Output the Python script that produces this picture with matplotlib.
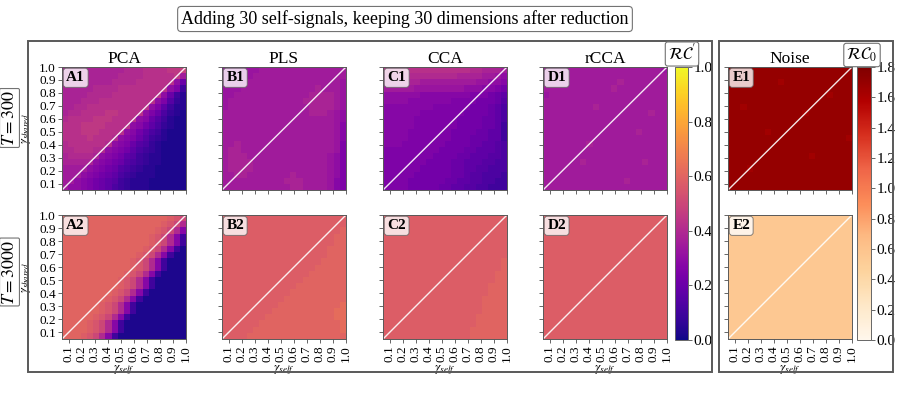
import numpy as np
import matplotlib
matplotlib.use("Agg")
import matplotlib.pyplot as plt
from matplotlib.patches import Rectangle

plt.rcParams["font.family"] = ["Liberation Serif", "DejaVu Serif"]
plt.rcParams["mathtext.fontset"] = "stix"

title = "Adding 30 self-signals, keeping 30 dimensions after reduction"
methods = ["PCA", "PLS", "CCA", "rCCA"]
letters = ["A", "B", "C", "D"]
row_labels = ["$T = 300$", "$T = 3000$"]

gamma = [0.05, 0.10, 0.15, 0.20, 0.25, 0.30, 0.35, 0.40, 0.45, 0.50,
         0.55, 0.60, 0.65, 0.70, 0.75, 0.80, 0.85, 0.90, 0.95, 1.00]
gamma_ticks = [0.1, 0.2, 0.3, 0.4, 0.5, 0.6, 0.7, 0.8, 0.9, 1.0]
rc_ticks = [0.0, 0.2, 0.4, 0.6, 0.8, 1.0]
noise_ticks = [0.0, 0.2, 0.4, 0.6, 0.8, 1.0, 1.2, 1.4, 1.6, 1.8]

# heatmap values, one char per cell (base 36),
# top row = gamma_shared 1.0, left col = gamma_self 0.05
# RC' panels: value = code * 0.025 ; noise panels: value = code * 0.05
A1 = ["fffff fffff ggghh hhiij",
      "fffff ffffg ggghh hhhie",
      "fffff fffgg gghhh hhhc8",
      "fffff ggggh hhhhh hhca4",
      "ffffg ggghh hhhhh hc842",
      "fffgg ghhhh hhhhh ca632",
      "ffggh hhhhh hhhhc a7422",
      "fgghh hhiih hhhca 85321",
      "ghhhh iiihh hhcb8 64211",
      "hhhii iihhh hcb97 53211",
      "hhhii ihhhh cb975 42111",
      "hhhhi hhhgc ba864 32111",
      "ghhhh hhgcb a8653 21111",
      "gghhh ggcba 97543 21111",
      "fgggg fcba9 76432 21111",
      "fffff cba98 65432 21111",
      "eeeec ba986 54322 11111",
      "eeecb a9875 43222 11111",
      "eecba 98764 32221 11111",
      "eccba 98754 32221 11111"]

B1 = ["ddddd deeee eeeee eeeee",
      "ddddd eeeee eeeee eeeee",
      "dddde eeeee eeeee eeeed",
      "dddee eeeee eeeee feeed",
      "ddeee eeeee eeeef fffed",
      "deeee eeeee eeeff fffed",
      "deeee eeeee eeeef fffed",
      "eeeee eeeee eeeef ffedc",
      "eeeee eeeee eeeee eeedc",
      "eeeee eeeee eeeee eeedb",
      "eeeee eeeee eeeee eeedb",
      "eeeee eeeee eeeee eeedb",
      "eefee eeeee eeeee eeeda",
      "effee eeeee eeeee eeeda",
      "efffe eeeee eeeee eedca",
      "effff eeeee eeeee eedca",
      "effff eeeee eeeee eedca",
      "eeffe eeeee efeee eedca",
      "eeeee eeeee fffee eedba",
      "eeeee eeeee effee eedba"]

C1 = ["hhhhh hhhhh hhhhg gfffe",
      "ggggg ggggg ggfff feedc",
      "fffff feeee eeeee ddccb",
      "eeeee ddddd dddcc cbba9",
      "ccccc cbbbb bbbba aa987",
      "ccccb bbbbb baaaa 99986",
      "bbbbb bbbaa aaaa9 99875",
      "bbbbb baaaa aaa99 99875",
      "bbbbb aaaaa aa999 98875",
      "bbbbb aaaaa aa999 98874",
      "bbbba aaaaa a9999 88774",
      "bbbba aaaaa a9998 88774",
      "bbbaa aaaaa 99998 87765",
      "aaaaa aaaa9 99988 77765",
      "aaaaa aaa99 99887 77665",
      "aaaaa aa999 98877 76655",
      "aaaaa a9999 98877 66555",
      "aaaaa 99999 98876 65554",
      "aaaa9 99999 88776 65544",
      "aaaa9 99998 87766 55444"]

D1 = ["eeeee eeeee eeeee eeeed",
      "eeeee eeeee eeeee eeeee",
      "eeeee eeeee eefee eeeee",
      "eeeee eeeee efeee eeeee",
      "deeee eeeee eeeee eeeee",
      "eeeee eeeee eeeee eeeee",
      "eeeee eeefe eeeee eeeee",
      "eeeee eeeee eeeee eefee",
      "eeeee eeeee eeeee eeeee",
      "eeeee eeeee eeeee eeeee",
      "eeeee eeeee eeeee feeee",
      "eeeee eeeee eeeee eeeee",
      "eeeee eefee eeeee eeeee",
      "eeeee eeeee eeeee eeeee",
      "eeeee eeeee eeeee eeeee",
      "eeeee efeee eeeee efeee",
      "eeeee eeeee eeeee eeeee",
      "eeeee eeeee eeeee eeeee",
      "eeeee eeeee eeefe eeeee",
      "eeeee eeeee eeeee eeeee"]

A2 = ["ooooo ooooo ooooo oonmk",
      "ooooo ooooo ooooo onmkg",
      "ooooo ooooo ooooo nmkgb",
      "ooooo ooooo oooon mkgb4",
      "ooooo ooooo oooon mkgb4",
      "ooooo ooooo ooonm kgb41",
      "ooooo ooooo oonmk gb411",
      "ooooo ooooo onmkg b4111",
      "ooooo ooooo onmkg b4111",
      "ooooo ooooo nmkgb 41111",
      "ooooo oooon mkgb4 11111",
      "ooooo oooon mkgb4 11111",
      "ooooo ooonm kgb41 11111",
      "ooooo oonmk gb411 11111",
      "ooooo onmkg b4111 11111",
      "ooooo onmkg b4111 11111",
      "ooooo nmkgb 41111 11111",
      "oooon mkgb4 11111 11111",
      "oooon mkgb4 11111 11111",
      "ooonm kgb41 11111 11111"]

B2 = ["nnnnn nnnnn nnnnn nnnnn",
      "nnnnn nnnnn nnnnn nnnnn",
      "nnnnn nnnnn nnnnn nnnno",
      "nnnnn nnnnn nnnnn nnnoo",
      "nnnnn nnnnn nnnnn nnnoo",
      "nnnnn nnnnn nnnnn nnooo",
      "nnnnn nnnnn nnnnn nnooo",
      "nnnnn nnnnn nnnnn noooo",
      "nnnnn nnnnn nnnnn ooooo",
      "nnnnn nnnnn nnnno ooooo",
      "nnnnn nnnnn nnnoo ooooo",
      "nnnnn nnnnn nnooo ooooo",
      "nnnnn nnnnn noooo ooooo",
      "nnnnn nnnnn ooooo ooooo",
      "nnnnn nnnno ooooo oooop",
      "nnnnn nnnoo ooooo ooopp",
      "nnnnn nnooo ooooo ooopp",
      "nnnnn noooo ooooo oooop",
      "nnnnn ooooo ooooo oooop",
      "nnnno ooooo ooooo ooooo"]

C2 = ["nnnnn nnnnn nnnnn nnnnn",
      "nnnnn nnnnn nnnnn nnnnn",
      "nnnnn nnnnn nnnnn nnnnn",
      "nnnnn nnnnn nnnnn nnnnn",
      "nnnnn nnnnn nnnnn nnnnn",
      "nnnnn nnnnn nnnnn nnnnn",
      "nnnnn nnnnn nnnnn nnnnn",
      "nnnnn nnnnn nnnnn nnnno",
      "nnnnn nnnnn nnnnn nnnno",
      "nnnnn nnnnn nnnnn nnnoo",
      "nnnnn nnnnn nnnnn nnnoo",
      "nnnnn nnnnn nnnnn nnooo",
      "nnnnn nnnnn nnnnn nnooo",
      "nnnnn nnnnn nnnnn noooo",
      "nnnnn nnnnn nnnnn noooo",
      "nnnnn nnnnn nnnnn noooo",
      "nnnnn nnnnn nnnnn ooooo",
      "nnnnn nnnnn nnnnn ooooo",
      "nnnnn nnnnn nnnno ooooo",
      "nnnnn nnnnn nnnno ooooo"]

D2 = ["nnnnn nnnnn nnnnn nnnnn",
      "nnnnn nnnnn nnnnn nnnnn",
      "nnnnn nnnnn nnnnn nnnnn",
      "nnnnn nnnnn nnnnn nnnnn",
      "nnnnn nnnnn nnnnn nnnnn",
      "nnnnn nnnnn nnnnn nnnnn",
      "nnnnn nnnnn nnnnn nnnnn",
      "nnnnn nnnnn nnnnn nnnnn",
      "nnnnn nnnnn nnnnn nnnnn",
      "nnnnn nnnnn nnnnn nnnnn",
      "nnnnn nnnnn nnnnn nnnnn",
      "nnnnn nnnnn nnnnn nnnnn",
      "nnnnn nnnnn nnnnn nnnnn",
      "nnnnn nnnnn nnnnn nnnnn",
      "nnnnn nnnnn nnnnn nnnnn",
      "nnnnn nnnnn nnnnn nnnnn",
      "nnnnn nnnnn nnnnn nnnnn",
      "nnnnn nnnnn nnnnn nnnnn",
      "nnnnn nnnnn nnnnn nnnnn",
      "nnnnn nnnnn nnnnn nnnnn"]

E1 = ["yyyyy yyyyy yyyyy yyyyy",
      "yyyyy yyyyy yyyyy yyyyy",
      "yyyyy yyyxy yyyyy yyyyy",
      "yyyyy yyyyy yyyyy yyyyy",
      "yyyyy yyyyy yyyyy yxyyy",
      "yyyyy yyyyy yyyyy yyyyy",
      "yyxyy yyyyy yyyyy yyyyy",
      "yyyyy yyyyy yyxyy yyyyy",
      "yyyyy yyyyy yyyyy yyyyy",
      "yyyyy yyyyy yyyyy yyyyy",
      "yyyyy yxyyy yyyyy yyyyy",
      "yyyyy yyyyy yyyyy yyyyx",
      "yyyyy yyyyy yyyyy yyyyy",
      "yyyyy yyyyy yyyyy yyyyy",
      "yyyyy yyyyy yyyxy yyyyy",
      "yyyyy yyyyy yyyyy yyyyy",
      "yyyxy yyyyy yyyyy yyyyy",
      "yyyyy yyyyy yyyyy yyyyy",
      "yyyyy yyyyy yyyyy yyyyy",
      "yyyyy yyyyy yyyyy yyyyy"]

E2 = ["bbbbb bbbbb bbbbb bbbbb",
      "bbbbb bbbbb bbbbb bbbbb",
      "bbbbb bbbbb bbbbb bbbbb",
      "bbbbb bbbbb bbbbb bbbbb",
      "bbbbb bbbbb bbbbb bbbbb",
      "bbbbb bbbbb bbbbb bbbbb",
      "bbbbb bbbbb bbbbb bbbbb",
      "bbbbb bbbbb bbbbb bbbbb",
      "bbbbb bbbbb bbbbb bbbbb",
      "bbbbb bbbbb bbbbb bbbbb",
      "bbbbb bbbbb bbbbb bbbbb",
      "bbbbb bbbbb bbbbb bbbbb",
      "bbbbb bbbbb bbbbb bbbbb",
      "bbbbb bbbbb bbbbb bbbbb",
      "bbbbb bbbbb bbbbb bbbbb",
      "bbbbb bbbbb bbbbb bbbbb",
      "bbbbb bbbbb bbbbb bbbbb",
      "bbbbb bbbbb bbbbb bbbbb",
      "bbbbb bbbbb bbbbb bbbbb",
      "bbbbb bbbbb bbbbb bbbbb"]


def decode(rows, step):
    cells = [[int(c, 36) * step for c in r.replace(" ", "")] for r in rows]
    bad = [len(r) for r in cells if len(r) != 20]
    assert not bad, bad
    return np.array(cells)[::-1]  # bottom row first for origin="lower"


W, H = 900, 396


def px(x0, y0, x1, y1):
    # pixel box (from top-left) -> figure fraction rect
    return [x0 / W, 1 - y1 / H, (x1 - x0) / W, (y1 - y0) / H]


fig = plt.figure(figsize=(9, 3.96), dpi=100)

col_x = [62, 222, 383, 543, 728]
row_y = [(67, 190), (215, 339)]

grids = [[A1, B1, C1, D1, E1], [A2, B2, C2, D2, E2]]
ext = (gamma[0], gamma[-1], gamma[0], gamma[-1])

for r in range(2):
    for c in range(5):
        y0, y1 = row_y[r]
        ax = fig.add_axes(px(col_x[c], y0, col_x[c] + 124, y1))
        if c < 4:
            Z = decode(grids[r][c], 0.025)
            im = ax.imshow(Z, origin="lower", extent=ext, cmap="plasma", vmin=0, vmax=1.0,
                           aspect="auto", interpolation="nearest")
            im_rc = im
            lab = letters[c] + str(r + 1)
        else:
            Z = decode(grids[r][c], 0.05)
            im = ax.imshow(Z, origin="lower", extent=ext, cmap="OrRd", vmin=0, vmax=1.8,
                           aspect="auto", interpolation="nearest")
            im_noise = im
            lab = "E" + str(r + 1)
        ax.plot([gamma[0], gamma[-1]], [gamma[0], gamma[-1]], color="white", lw=1.0, alpha=0.9)
        ax.set_xlim(gamma[0], gamma[-1])
        ax.set_ylim(gamma[0], gamma[-1])
        ax.set_xticks(gamma_ticks)
        ax.set_yticks(gamma_ticks)
        ax.set_xticklabels([f"{t:.1f}" for t in gamma_ticks], rotation=90)
        ax.set_yticklabels([f"{t:.1f}" for t in gamma_ticks])
        ax.tick_params(length=3, width=0.6, labelsize=9.5, pad=1.5, color="0.3")
        for s in ax.spines.values():
            s.set_linewidth(0.7)
            s.set_color("0.35")
        if r == 0:
            ax.tick_params(labelbottom=False)
            ax.set_title(methods[c] if c < 4 else "Noise", fontsize=12.5, pad=3)
        else:
            ax.set_xlabel(r"$\gamma_{self}$", fontsize=9.5, labelpad=1)
        if c != 0:
            ax.tick_params(labelleft=False)
        else:
            ax.set_ylabel(r"$\gamma_{shared}$", fontsize=9)
            ax.yaxis.set_label_coords(-0.235, 0.5)
        ax.text(0.035, 0.965, lab, transform=ax.transAxes, ha="left", va="top",
                fontsize=11, fontweight="bold",
                bbox=dict(boxstyle="round,pad=0.2", fc="white", ec="0.4", alpha=0.8, lw=0.7))

# colorbars
cax1 = fig.add_axes(px(675, 67, 688, 340))
cb1 = fig.colorbar(im_rc, cax=cax1, ticks=rc_ticks)
cb1.ax.set_yticklabels([f"{t:.1f}" for t in rc_ticks])
cax2 = fig.add_axes(px(857, 67, 871, 340))
cb2 = fig.colorbar(im_noise, cax=cax2, ticks=noise_ticks)
cb2.ax.set_yticklabels([f"{t:.1f}" for t in noise_ticks])
for cb in (cb1, cb2):
    cb.ax.tick_params(labelsize=11, length=3, width=0.6, pad=1, color="0.3")
    cb.outline.set_linewidth(0.7)
    cb.outline.set_edgecolor("0.4")

lbl_box = dict(boxstyle="round,pad=0.15", fc="white", ec="0.45", lw=0.8)
fig.text(682 / W, 1 - 54 / H, r"$\mathcal{RC}^{\prime}$", ha="center", va="center", fontsize=12, bbox=lbl_box)
fig.text(862 / W, 1 - 55 / H, r"$\mathcal{RC}_0$", ha="center", va="center", fontsize=12, bbox=lbl_box)

# group frames
for x0, x1 in [(28, 712), (719, 893)]:
    fig.add_artist(Rectangle((x0 / W, 1 - 372 / H), (x1 - x0) / W, (372 - 41) / H,
                             transform=fig.transFigure, fill=False, ec="0.35", lw=1.4))

# row labels
row_box = dict(boxstyle="round,pad=0.08", fc="white", ec="0.45", lw=0.8)
fig.text(9.5 / W, 1 - 118 / H, row_labels[0], rotation=90, ha="center", va="center", fontsize=13,
         bbox=row_box)
fig.text(9.5 / W, 1 - 272 / H, row_labels[1], rotation=90, ha="center", va="center", fontsize=13,
         bbox=row_box)

fig.text(405 / W, 1 - 19 / H, title, ha="center", va="center", fontsize=13,
         bbox=dict(boxstyle="round,pad=0.2", fc="white", ec="0.45", lw=0.8))

fig.savefig("out.png", dpi=100)
